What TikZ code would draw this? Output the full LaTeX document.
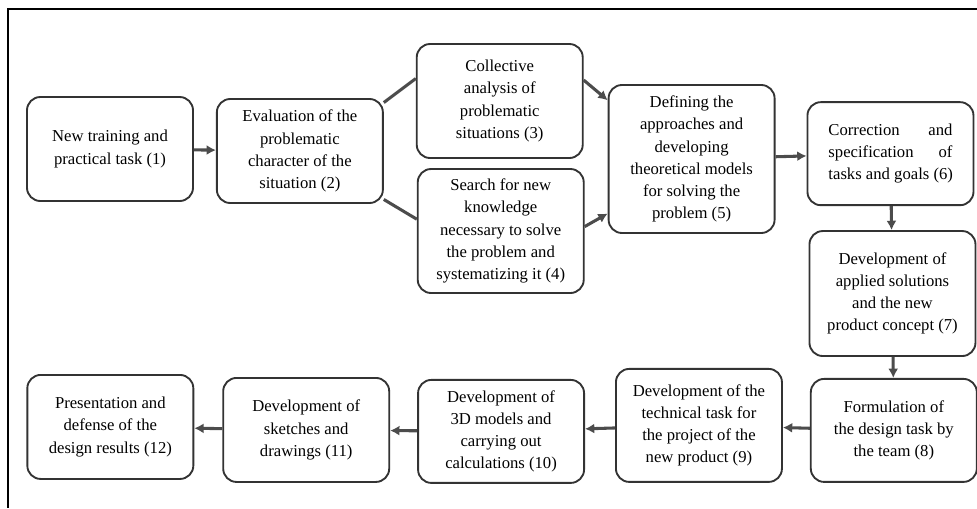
\documentclass[tikz,border=0pt]{standalone}
\usepackage{fontspec}
\setmainfont{Liberation Serif}
\usetikzlibrary{positioning,arrows.meta}

\begin{document}
\begin{tikzpicture}[x=0.75pt, y=-0.75pt, ->, >={Latex[length=7pt,width=7.5pt]}, line width=2.3pt, color=black!70]
      \tikzstyle{stage}=[draw=black!80, text=black, line width=1.4pt, rounded corners=10pt, minimum width=124.5pt, minimum height=78pt, inner sep=2pt, align=center, font=\rmfamily\fontsize{12.5}{16.6}\selectfont]
      \useasboundingbox (0,0) rectangle (977,508);
      \draw[-, line width=0.9pt, black] (977,9) -| (8,508);
      % upper row
      \node[stage] (a) at (110,149) {New training and\\practical task (1)};
      \node[stage] (b) [right=16.5pt of a, yshift=-1.5pt] {Evaluation of the\\problematic\\character of the\\situation (2)};
      \node[stage, minimum height=85.5pt] (c) [right=24pt of b, yshift=37.5pt] {Collective\\analysis of\\problematic\\situations (3)};
      \node[stage, minimum height=93pt] (d) [right=24.75pt of b, yshift=-60pt] {Search for new\\knowledge\\necessary to solve\\the problem and\\systematizing it (4)};
      \node[stage, minimum height=111pt] (e) [right=18pt of c, yshift=-43.5pt] {Defining the\\approaches and\\developing\\theoretical models\\for solving the\\problem (5)};
      \node[stage, minimum height=77.25pt] (f) [right=23.25pt of e, yshift=4pt] {\makebox[93pt][s]{Correction and}\\\makebox[93pt][s]{specification of}\\\makebox[93pt][l]{tasks and goals (6)}};
      % right column
      \node[stage, minimum height=93.75pt] (g) [below=18pt of f, xshift=1.5pt] {Development of\\applied solutions\\and the new\\product concept (7)};
      \node[stage, minimum height=77.25pt] (h) [below=15.75pt of g, xshift=1pt] {Formulation of\\the design task by\\the team (8)};
      % lower row
      \node[stage, minimum height=84.75pt] (i) [left=20.25pt of h, yshift=3.75pt] {Development of the\\technical task for\\the project of the\\new product (9)};
      \node[stage, minimum height=77.25pt] (j) [left=22.5pt of i, yshift=-4.5pt] {Development of\\3D models and\\carrying out\\calculations (10)};
      \node[stage] (k) [left=20.25pt of j, yshift=1.1pt] {Development of\\sketches and\\drawings (11)};
      \node[stage] (l) [left=21pt of k, yshift=2.25pt] {Presentation and\\defense of the\\design results (12)};
      \path
      (a) edge (b)
      (b.30) edge[-] (c.165)
      (b.-30) edge[-] (d.172)
      (c.14) edge (e.145)
      (d.3) edge (e.213)
      (e) edge (f)
      (f) edge (g)
      (g) edge (h)
      (h) edge (i)
      (i) edge (j)
      (j) edge (k)
      (k) edge (l);
    \end{tikzpicture}
\end{document}
